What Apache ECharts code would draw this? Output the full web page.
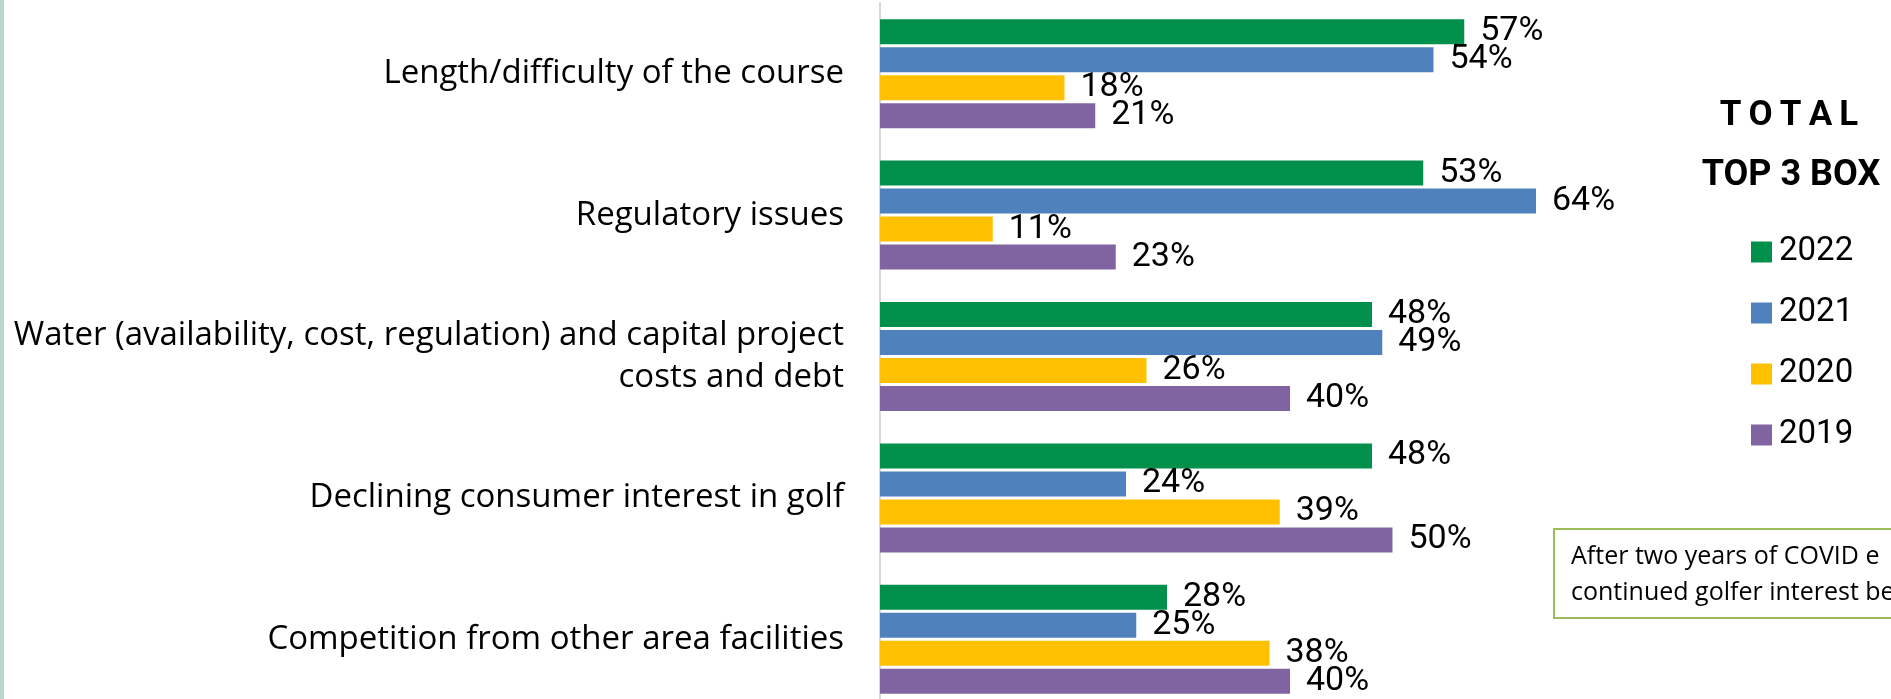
<!DOCTYPE html>
<html lang="en">

<head>
    <meta charset="UTF-8">
    <title>Top 3 Box</title>
    <style>
        html,
        body {
            margin: 0;
            padding: 0;
            width: 100vw;
            height: 100vh;
            overflow: hidden;
            background-color: #fff;
        }

        #chart {
            width: 1891px;
            height: 699px;
        }
    </style>
</head>

<body>
    <div id="chart"></div>

    <script src="https://cdn.jsdelivr.net/npm/echarts@6/dist/echarts.min.js"></script>
    <script type="text/javascript">
        // 分类（从上到下）
        const categories = [
            'Length/difficulty of the course',
            'Regulatory issues',
            'Water (availability, cost, regulation) and capital project\ncosts and debt',
            'Declining consumer interest in golf',
            'Competition from other area facilities'
        ];
        const years = ['2022', '2021', '2020', '2019'];
        const values2022 = [57, 53, 48, 48, 28];
        const values2021 = [54, 64, 49, 24, 25];
        const values2020 = [18, 11, 26, 39, 38];
        const values2019 = [21, 23, 40, 50, 40];
        const colors = ['#00904C', '#4F81BD', '#FFC000', '#8064A2'];
        const noteLines = ['After two years of COVID e', 'continued golfer interest be'];

        const numFont = 'Roboto, "Liberation Sans", sans-serif';
        const textFont = '"Open Sans", Roboto, sans-serif';
        const chart = echarts.init(document.getElementById('chart'));

        function barSeries(name, data, color) {
            return {
                name: name,
                type: 'bar',
                data: data,
                barWidth: 25,
                barGap: '12%',
                itemStyle: { color: color },
                label: {
                    show: true,
                    position: 'right',
                    distance: 16,
                    formatter: '{c}%',
                    color: '#000',
                    fontFamily: numFont,
                    fontSize: 34
                }
            };
        }

        chart.setOption({
            animation: false,
            grid: { left: 880, top: 3, width: 1025, height: 707, outerBoundsMode: 'none' },
            xAxis: {
                type: 'value',
                min: 0,
                max: 100,
                show: false
            },
            yAxis: {
                type: 'category',
                data: categories,
                inverse: true,
                axisLine: { show: true, lineStyle: { color: '#D9D9D9', width: 2 } },
                axisTick: { show: false },
                splitLine: { show: false },
                axisLabel: {
                    margin: 36,
                    color: '#000',
                    fontFamily: textFont,
                    fontSize: 33,
                    lineHeight: 42,
                    align: 'right'
                }
            },
            legend: {
                data: years,
                orient: 'vertical',
                left: 1751,
                top: 235,
                padding: 0,
                icon: 'rect',
                itemWidth: 21,
                itemHeight: 21,
                itemGap: 27,
                textStyle: {
                    color: '#000',
                    fontFamily: numFont,
                    fontSize: 33,
                    lineHeight: 34,
                    padding: [0, 0, 0, 2]
                }
            },
            series: [
                barSeries(years[0], values2022, colors[0]),
                barSeries(years[1], values2021, colors[1]),
                barSeries(years[2], values2020, colors[2]),
                barSeries(years[3], values2019, colors[3])
            ],
            graphic: [
                // 左侧绿色细条
                {
                    type: 'rect',
                    left: 0,
                    top: 0,
                    shape: { width: 4, height: 699 },
                    style: { fill: '#B8D6C9' }
                },
                {
                    type: 'text',
                    x: 1789,
                    y: 116,
                    style: {
                        text: 'T\u2009O\u2009T\u2009A\u2009L',
                        fontFamily: numFont,
                        fontWeight: 'bold',
                        fontSize: 35,
                        fill: '#000',
                        align: 'center',
                        verticalAlign: 'middle'
                    }
                },
                {
                    type: 'text',
                    x: 1791,
                    y: 176,
                    style: {
                        text: 'TOP 3 BOX',
                        fontFamily: numFont,
                        fontWeight: 'bold',
                        fontSize: 36,
                        fill: '#000',
                        align: 'center',
                        verticalAlign: 'middle'
                    }
                },
                // 说明文字框
                {
                    type: 'rect',
                    left: 1553,
                    top: 528,
                    shape: { width: 400, height: 89 },
                    style: { fill: '#fff', stroke: '#9BBB59', lineWidth: 2 }
                },
                {
                    type: 'text',
                    x: 1571,
                    y: 575,
                    style: {
                        text: noteLines.join('\n'),
                        fontFamily: textFont,
                        fontSize: 25,
                        lineHeight: 36,
                        fill: '#000',
                        align: 'left',
                        verticalAlign: 'middle'
                    }
                }
            ]
        });
    </script>
</body>

</html>
